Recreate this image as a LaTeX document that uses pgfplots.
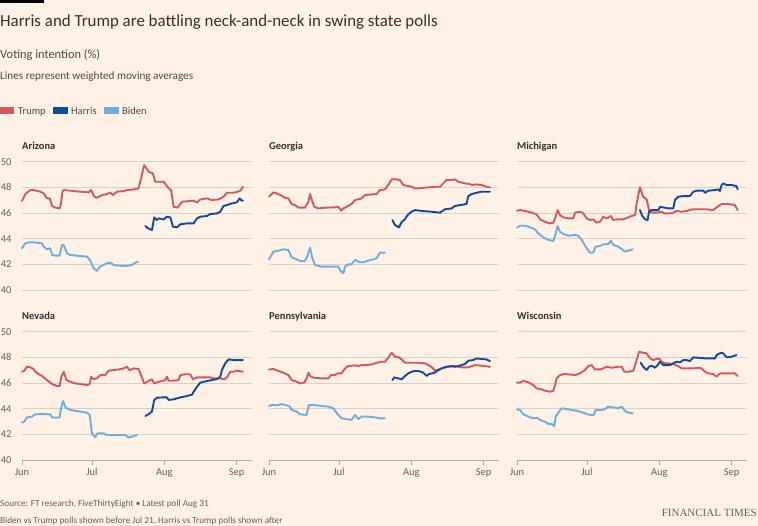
\documentclass[border=0pt]{standalone}
\usepackage{pgfplots}
\pgfplotsset{compat=1.18}
\usepackage{fontspec}
\setmainfont{Carlito}
\newfontfamily\ftserif{Liberation Serif}
\definecolor{ftbg}{HTML}{FFF1E5}
\definecolor{fttext}{HTML}{33302E}
\definecolor{ftsub}{HTML}{4D4845}
\definecolor{ftfoot}{HTML}{66605C}
\definecolor{ftgrid}{HTML}{D9D0C7}
\definecolor{ftaxis}{HTML}{B3AAA2}
\definecolor{trump}{HTML}{D25A5C}
\definecolor{harris}{HTML}{0F4A9C}
\definecolor{biden}{HTML}{6AAFDF}
\pgfplotsset{
 ftpanel/.style={
   scale only axis, width=230pt, height=128.3pt,
   xmin=0, xmax=98.6, ymin=40, ymax=50,
   ytick={40,42,44,46,48,50}, ymajorgrids,
   grid style={draw=ftgrid, line width=0.7pt},
   xtick={0,30,61,92}, xticklabels={Jun,Jul,Aug,Sep},
   axis x line*=bottom, axis y line*=left,
   y axis line style={draw=none},
   ytick style={draw=none},
   tick align=outside, major tick length=5pt,
   tick label style={font=\fontsize{10.5}{12}\selectfont, text=ftfoot},
   /pgf/number format/assume math mode=true,
   every axis plot/.append style={line width=1.9pt, line join=round, line cap=round, no markers},
   clip=false,
 },
 toprow/.style={xticklabels={}, x axis line style={draw=none}, xtick style={draw=none}},
 bottomrow/.style={x axis line style={draw=ftaxis, line width=0.8pt, -}, xtick style={draw=ftaxis, line width=0.8pt}},
 firstcol/.style={yticklabel style={xshift=-2pt}},
 othercol/.style={yticklabels={}},
}
\begin{document}
\begin{tikzpicture}[x=1pt,y=1pt]
\fill[ftbg] (0,0) rectangle (758,-526);
\fill[black] (0,0) rectangle (44,-3);
\node[anchor=base west, inner sep=0, text=fttext, font=\fontsize{16.9}{19}\selectfont] at (0,-26.7) {Harris and Trump are battling neck-and-neck in swing state polls};
\node[anchor=base west, inner sep=0, text=ftsub, font=\fontsize{12.4}{14}\selectfont] at (0,-58.3) {Voting intention (\%)};
\node[anchor=base west, inner sep=0, text=ftsub, font=\fontsize{11.2}{13}\selectfont] at (0,-80) {Lines represent weighted moving averages};
% legend
\fill[trump] (0,-107) rectangle (14.3,-114.3);
\node[anchor=base west, inner sep=0, text=ftsub, font=\fontsize{10.5}{12}\selectfont] at (18,-115) {Trump};
\fill[harris] (53.3,-107) rectangle (68,-114.3);
\node[anchor=base west, inner sep=0, text=ftsub, font=\fontsize{10.5}{12}\selectfont] at (71,-115) {Harris};
\fill[biden] (104,-107) rectangle (119,-114.3);
\node[anchor=base west, inner sep=0, text=ftsub, font=\fontsize{10.5}{12}\selectfont] at (122,-115) {Biden};
% panel titles
\foreach \px/\py/\nm in {22/150/Arizona, 269/150/Georgia, 517/150/Michigan, 22/319.3/Nevada, 269/319.3/Pennsylvania, 517/319.3/Wisconsin}{
  \node[anchor=base west, inner sep=0, text=fttext, font=\fontsize{10.5}{12}\selectfont\bfseries] at (\px,-\py) {\nm};
}

% ---------------- Arizona
\begin{axis}[ftpanel, toprow, firstcol, at={(22pt,-290pt)}, anchor=south west]
\addplot[biden] coordinates {(0,43.25)(1.4,43.64)(2.9,43.71)(5,43.71)(8.6,43.64)(9.3,43.38)(10.7,43.17)(12.1,43.25)(12.9,42.73)(14.3,42.68)(16.1,42.68)(17.1,43.5)(17.9,43.5)(19.3,42.86)(20.7,42.73)(25,42.65)(27.9,42.60)(29.3,42.29)(30.7,41.69)(32.1,41.5)(33.3,41.8)(35,41.95)(36.4,42.08)(37.9,42.13)(39.3,41.95)(41.4,41.90)(43.6,41.87)(45.7,41.90)(47.1,41.95)(48.6,42.13)(49.7,42.2)};
\addplot[trump] coordinates {(0,46.94)(1.5,47.5)(3.6,47.79)(5,47.79)(7.9,47.66)(9.3,47.53)(10.7,47.14)(11.9,47.14)(12.9,46.55)(14.3,46.42)(16.1,46.36)(16.5,46.5)(17.4,47.7)(17.9,47.79)(20.7,47.74)(25,47.66)(28.6,47.61)(29.6,47.79)(31,47.27)(32.1,47.19)(34.3,47.40)(36.4,47.48)(37.9,47.58)(39,47.40)(40.7,47.66)(43.6,47.71)(45,47.79)(47.9,47.84)(50,47.92)(52.4,49.74)(54.3,49.22)(56.1,49.09)(57.1,48.44)(60.7,48.44)(62.9,47.92)(63.9,47.79)(65,46.49)(66.7,46.42)(68.6,46.88)(73.6,46.96)(75,46.81)(76.4,47.06)(79.3,47.14)(81.4,47.01)(84.3,47.06)(86.4,47.27)(87.9,47.58)(90.7,47.58)(92.4,47.66)(93.6,47.74)(94.7,48.05)};
\addplot[harris] coordinates {(52.9,44.99)(54,44.80)(55.7,44.68)(56.7,45.66)(57.9,45.45)(58.6,45.58)(60.7,45.50)(62.1,45.71)(63.6,45.66)(64.7,44.94)(66.4,44.88)(67.9,45.12)(70.7,45.19)(73.6,45.19)(75,45.58)(76.4,45.71)(79.3,45.77)(80.7,45.92)(83.6,45.97)(85,46.10)(86.4,46.55)(87.9,46.62)(90,46.75)(92.1,46.83)(93.3,47.14)(93.9,47.01)(94.7,46.96)};
\end{axis}

% ---------------- Georgia
\begin{axis}[ftpanel, toprow, othercol, at={(269pt,-290pt)}, anchor=south west]
\addplot[biden] coordinates {(0,42.39)(1.9,42.99)(4,43.06)(6.1,43.17)(8.3,43.12)(9.7,42.55)(11.9,42.39)(13.3,42.26)(15.4,42.26)(16.6,42.73)(17.6,43.30)(18.6,42.47)(19.7,41.95)(22.6,41.82)(26.9,41.82)(29.7,41.82)(30.9,41.43)(31.9,41.30)(32.6,41.82)(34,42.0)(35.4,42.0)(36.9,42.34)(39,42.16)(40.4,42.16)(42.6,42.29)(44.7,42.39)(46.1,42.47)(47.6,42.91)(49.7,42.91)};
\addplot[trump] coordinates {(0,47.27)(1.9,47.61)(3.3,47.53)(5.4,47.35)(6.9,47.19)(8.3,47.14)(9.7,46.70)(11.1,46.62)(12.6,46.42)(15.4,46.42)(16.9,46.88)(17.6,47.48)(18.6,46.88)(19.4,46.49)(21.1,46.36)(24,46.42)(28.3,46.44)(29.7,46.49)(30.9,46.18)(31.9,46.36)(33.3,46.49)(35.4,46.70)(36.9,47.01)(39.7,47.14)(41.1,47.40)(44,47.45)(46.1,47.48)(47.6,47.79)(49.7,47.84)(51.1,48.18)(52.6,48.62)(54.7,48.62)(56.1,48.57)(57.6,48.18)(59.7,48.10)(61.1,48.05)(62.6,47.92)(64,47.92)(68.3,48.0)(71.9,48.05)(73.3,48.05)(74.7,48.31)(76.1,48.57)(78.3,48.57)(79.7,48.62)(81.1,48.44)(84,48.31)(86.1,48.26)(86.9,48.18)(89,48.23)(91.1,48.18)(93.3,48.05)(94.7,48.0)};
\addplot[harris] coordinates {(52.9,45.45)(54,45.06)(55.7,44.88)(56.9,45.32)(58,45.45)(59.4,45.84)(61.1,46.10)(62.6,46.23)(65.4,46.16)(69.7,46.10)(73.3,46.03)(75.4,46.29)(78.3,46.36)(79.7,46.55)(81.9,46.62)(84.7,46.70)(85.4,47.32)(86.9,47.48)(89,47.58)(91.1,47.66)(94.7,47.66)};
\end{axis}

% ---------------- Michigan
\begin{axis}[ftpanel, toprow, othercol, at={(517pt,-290pt)}, anchor=south west]
\addplot[biden] coordinates {(0,44.86)(1.3,45.01)(3.4,45.01)(5.6,44.88)(7.7,44.73)(9.1,44.42)(11.3,44.10)(13.4,43.90)(15.6,43.82)(16.6,44.42)(17.4,44.99)(18.4,44.55)(19.9,44.36)(22,44.23)(24.9,44.29)(26.3,44.23)(27.7,43.90)(29.9,43.25)(31.3,42.91)(32.7,42.91)(33.7,43.38)(35.6,43.43)(37,43.56)(39.1,43.58)(40.3,43.84)(41.3,43.51)(43.4,43.38)(44.9,43.19)(46.3,42.99)(47.7,43.06)(49.6,43.17)};
\addplot[trump] coordinates {(0,46.18)(1.3,46.23)(3.4,46.16)(6.3,46.03)(8.4,45.90)(9.9,45.51)(12,45.32)(14.1,45.19)(15.6,45.25)(16.3,45.58)(17.4,46.23)(18.4,45.84)(19.9,45.66)(22,45.58)(24.1,45.58)(24.9,46.03)(27,46.10)(28.4,45.97)(29.9,45.58)(31.3,45.45)(32.7,45.51)(34.1,45.25)(35.6,45.32)(37,45.71)(38.4,45.58)(40.3,45.77)(41.3,45.45)(42.7,45.51)(45.6,45.51)(47.7,45.66)(49.1,45.77)(50.6,45.84)(51.3,46.75)(52.7,48.0)(54.1,47.27)(55.6,47.06)(56.6,46.23)(57.7,46.03)(59.9,46.03)(62,46.10)(63.4,45.97)(65.6,45.97)(67,46.03)(68.4,46.16)(70.6,46.10)(72.7,46.16)(75.6,46.29)(78.4,46.29)(81.3,46.29)(84.1,46.23)(85.6,46.44)(87.7,46.70)(90.6,46.70)(93.4,46.62)(94.6,46.23)};
\addplot[harris] coordinates {(52.7,46.23)(53.7,45.77)(54.9,45.51)(56,45.45)(56.6,46.10)(57.7,46.23)(60.6,46.23)(61.3,46.49)(62.7,46.44)(64.9,46.36)(67,46.36)(67.7,47.01)(69.1,47.27)(71.3,47.32)(74.1,47.32)(75.6,47.66)(77,47.74)(79.9,47.74)(80.6,47.58)(82,47.74)(84.9,47.79)(86.3,47.84)(87,47.71)(87.7,48.18)(88.4,48.31)(89.9,48.18)(92,48.18)(94.1,48.10)(94.6,47.84)};
\end{axis}

% ---------------- Nevada
\begin{axis}[ftpanel, bottomrow, firstcol, at={(22pt,-460pt)}, anchor=south west]
\addplot[biden] coordinates {(0,42.91)(1,42.99)(2.1,43.32)(4.3,43.38)(5.7,43.56)(7.9,43.58)(12.1,43.56)(12.9,43.32)(14.3,43.30)(16.1,43.32)(16.9,44.16)(17.6,44.60)(18.6,44.10)(20.7,43.90)(25,43.77)(27.9,43.69)(29,43.51)(30,42.08)(31.4,41.77)(32.4,42.08)(35,42.08)(36.4,41.95)(40.7,41.95)(44.3,41.95)(45.7,41.74)(47.1,41.82)(49.3,41.95)};
\addplot[trump] coordinates {(0,46.88)(1,46.96)(2.1,47.27)(3.6,47.22)(5,47.09)(5.7,46.88)(7.1,46.70)(8.6,46.55)(10.7,46.23)(12.9,45.92)(15,45.77)(16.1,45.77)(16.9,46.49)(17.9,46.88)(19,46.23)(20.7,46.10)(22.9,45.97)(25,45.92)(27.9,45.84)(29,45.92)(29.6,46.49)(30.7,46.29)(32.1,46.36)(33.6,46.62)(35.7,46.62)(37.1,46.96)(39.3,47.01)(41.4,47.06)(43.6,47.14)(45,47.27)(46.1,47.01)(47.9,47.14)(50,47.09)(50.7,46.75)(52.4,45.97)(54.3,46.16)(55.7,46.29)(56.7,45.97)(58.6,46.10)(60,46.16)(61.4,46.23)(62.1,46.49)(62.9,46.18)(65,46.18)(67.1,46.23)(67.9,46.62)(70,46.68)(72.1,46.68)(73.3,46.29)(75,46.44)(77.9,46.44)(80.7,46.44)(82.1,46.36)(85,46.36)(86.7,46.29)(87.9,46.44)(89.3,46.88)(90.7,46.88)(92.1,46.96)(94.7,46.88)};
\addplot[harris] coordinates {(52.9,43.43)(54.3,43.58)(55.7,43.77)(56.7,44.68)(57.9,44.86)(60.7,44.88)(62.1,44.88)(62.9,44.68)(65,44.73)(67.9,44.88)(70.7,44.99)(72.9,45.09)(73.6,45.32)(75,45.71)(76.4,46.03)(78.6,46.13)(81.4,46.23)(83.6,46.31)(85,46.49)(85.7,47.01)(87.1,47.53)(88.6,47.84)(90.7,47.79)(92.9,47.79)(94.7,47.79)};
\end{axis}

% ---------------- Pennsylvania
\begin{axis}[ftpanel, bottomrow, othercol, at={(269pt,-460pt)}, anchor=south west]
\addplot[biden] coordinates {(0,44.21)(1.1,44.29)(3.3,44.26)(5.4,44.36)(7.6,44.26)(9,44.16)(9.7,43.90)(11.9,43.77)(13.3,43.56)(16.1,43.51)(17.1,44.29)(19,44.29)(22.6,44.21)(25.4,44.16)(27.6,44.03)(29.1,43.64)(31.1,43.25)(33.3,43.19)(35.4,43.12)(36.9,43.51)(38.3,43.19)(39.7,43.38)(42.6,43.38)(45.4,43.32)(47.6,43.25)(49.7,43.25)};
\addplot[trump] coordinates {(0,47.06)(1.9,47.09)(4,46.94)(6.1,46.81)(8.3,46.62)(9.7,46.23)(11.9,46.10)(13.3,45.97)(15.1,46.03)(16.1,46.36)(16.9,46.81)(17.6,46.55)(19,46.42)(22.6,46.36)(25.4,46.36)(26.6,46.62)(28.3,46.62)(29.4,46.75)(31.1,46.75)(32.6,47.14)(34,47.32)(36.9,47.38)(38.3,47.32)(39.7,47.40)(41.9,47.40)(44,47.45)(46.1,47.58)(48.3,47.66)(49.7,47.66)(50.9,47.92)(51.9,48.18)(52.6,48.36)(54,48.05)(55.7,48.0)(56.9,47.84)(58.3,47.58)(61.1,47.58)(64,47.58)(66.9,47.53)(69,47.32)(70.4,47.14)(71.1,46.96)(74,47.14)(76.9,47.27)(79.7,47.32)(82.6,47.22)(85.4,47.22)(88.3,47.40)(91.1,47.35)(94.7,47.27)};
\addplot[harris] coordinates {(52.9,46.23)(53.7,46.44)(55.4,46.36)(56.9,46.29)(58.3,46.55)(59.7,46.75)(61.1,46.88)(62.6,46.94)(64,46.94)(66.1,46.81)(67.6,46.55)(68.6,46.70)(69.7,46.75)(71.1,46.81)(72.6,47.01)(74,47.14)(76.1,47.27)(78.3,47.32)(79.7,47.27)(81.1,47.32)(82.6,47.40)(84,47.48)(85.4,47.74)(87.6,47.79)(89,47.92)(91.1,47.87)(93.3,47.84)(94.7,47.71)};
\end{axis}

% ---------------- Wisconsin
\begin{axis}[ftpanel, bottomrow, othercol, at={(517pt,-460pt)}, anchor=south west]
\addplot[biden] coordinates {(0,43.95)(1.3,43.90)(2.7,43.56)(4.9,43.38)(7,43.25)(8.4,43.30)(9.9,43.12)(12,42.99)(13.4,42.81)(14.9,42.81)(16,42.65)(16.6,43.38)(17.7,43.69)(19.1,44.03)(21.3,43.97)(23.4,43.90)(25.6,43.84)(27,43.77)(29.1,43.64)(31.4,43.51)(32.9,43.51)(33.7,43.90)(36.3,43.90)(37.7,43.97)(39.1,44.16)(41.3,44.10)(43.4,44.03)(44.9,44.16)(46.3,43.82)(47.7,43.69)(49.6,43.64)};
\addplot[trump] coordinates {(0,46.03)(1.3,46.03)(2.7,46.16)(4.9,46.05)(7,45.84)(8.4,45.58)(10.6,45.51)(12,45.40)(14.1,45.32)(15.6,45.40)(16.3,45.84)(17,46.36)(18.4,46.62)(20.6,46.70)(24.9,46.62)(27,46.75)(29.1,47.01)(30.6,47.32)(32,47.40)(33.4,47.06)(35.6,47.06)(37,47.14)(38.4,47.27)(40.6,47.19)(43.4,47.27)(44.9,47.27)(46,46.88)(47.7,46.88)(49.9,46.96)(51.3,47.79)(52.3,48.44)(54.1,48.36)(55.6,48.31)(57,47.92)(58.4,47.79)(60.6,47.92)(61.3,47.84)(62,47.66)(63.4,47.53)(64.9,47.53)(67,47.48)(69.1,47.32)(70.6,47.14)(72.7,47.14)(75.6,47.14)(77.7,47.19)(79.1,47.14)(80.6,46.88)(82,46.75)(84.1,46.70)(85.6,46.49)(87,46.75)(89.1,46.75)(93.4,46.75)(94.6,46.55)};
\addplot[harris] coordinates {(53,47.58)(54.1,47.27)(55.6,47.01)(56.6,47.27)(57.7,47.35)(59.1,47.19)(60.3,47.40)(61.3,47.66)(62.7,47.40)(64.1,47.40)(65.6,47.40)(67,47.53)(68.4,47.66)(69.9,47.61)(71.3,47.79)(72.7,47.79)(74.1,47.71)(75.6,48.0)(77.7,47.97)(80.6,47.92)(83.4,47.92)(84.9,47.92)(85.6,48.18)(87.4,48.36)(88.4,48.31)(89.9,48.0)(92,48.05)(94.1,48.18)};
\end{axis}

% footer
\node[anchor=base west, inner sep=0, text=ftfoot, font=\fontsize{9.2}{11}\selectfont] at (0,-507) {Source: FT research, FiveThirtyEight \textbullet{} Latest poll Aug 31};
\node[anchor=base west, inner sep=0, text=ftfoot, font=\fontsize{9.2}{11}\selectfont] at (0,-523) {Biden vs Trump polls shown before Jul 21, Harris vs Trump polls shown after};
\node[anchor=base east, inner sep=0, text=ftfoot, font=\ftserif\fontsize{11}{12}\selectfont] at (757,-516.5) {FINANCIAL TIMES};
\pgfresetboundingbox
\path[use as bounding box] (0,0) rectangle (758,-526);
\end{tikzpicture}
\end{document}
